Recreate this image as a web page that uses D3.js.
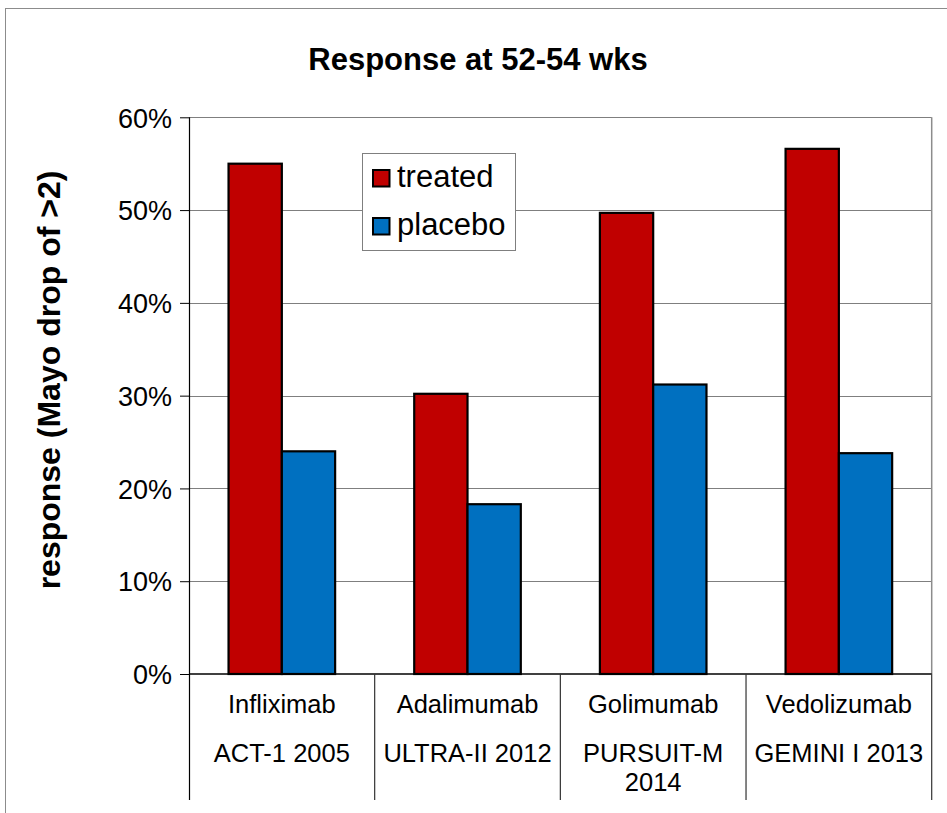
<!DOCTYPE html>
<html>
<head>
<meta charset="utf-8">
<script src="https://cdn.jsdelivr.net/npm/d3@7"></script>
<style>
  html, body { margin: 0; padding: 0; background: #fff; }
  svg { display: block; font-family: "Liberation Sans", Arial, sans-serif; }
</style>
</head>
<body>
<svg id="chart" width="947" height="813"></svg>
<script>
// Trial results: response at 52-54 weeks
const categories = [
  ["Infliximab", "ACT-1 2005"],
  ["Adalimumab", "ULTRA-II 2012"],
  ["Golimumab", "PURSUIT-M", "2014"],
  ["Vedolizumab", "GEMINI I 2013"]
];
const seriesNames = ["treated", "placebo"];
const treated = [0.55, 0.302, 0.497, 0.566];
const placebo = [0.24, 0.183, 0.312, 0.238];
const yTicks = [0, 0.1, 0.2, 0.3, 0.4, 0.5, 0.6];
const colors = { treated: "#C00000", placebo: "#0070C0" };

const svg = d3.select("#chart");
const plot = { left: 189, right: 931.7, top: 117.3, bottom: 674 };

// outer chart frame
svg.append("rect")
  .attr("x", 5.5).attr("y", 8.5).attr("width", 1000).attr("height", 1000)
  .attr("fill", "#fff").attr("stroke", "#8c8c8c").attr("stroke-width", 1);

const x0 = d3.scaleBand()
  .domain(categories.map(c => c[0]))
  .range([plot.left, plot.right])
  .paddingInner(0).paddingOuter(0);

const x1 = d3.scaleBand()
  .domain(seriesNames)
  .range([0, x0.bandwidth()])
  .paddingInner(0).paddingOuter(0.742);

const y = d3.scaleLinear().domain([0, 0.6]).range([plot.bottom, plot.top]);

// horizontal gridlines
svg.append("g")
  .selectAll("line")
  .data(yTicks.filter(t => t > 0))
  .join("line")
  .attr("x1", plot.left).attr("x2", plot.right)
  .attr("y1", d => Math.round(y(d)) + 0.5).attr("y2", d => Math.round(y(d)) + 0.5)
  .attr("stroke", "#7f7f7f").attr("stroke-width", 1);

// right edge of plot area
svg.append("line")
  .attr("x1", plot.right).attr("x2", plot.right)
  .attr("y1", plot.top).attr("y2", plot.bottom)
  .attr("stroke", "#8c8c8c").attr("stroke-width", 1.5);

// bars
const rows = categories.map((c, i) => ({ cat: c[0], values: [
  { key: "treated", value: treated[i] },
  { key: "placebo", value: placebo[i] }
]}));

svg.append("g")
  .selectAll("g")
  .data(rows)
  .join("g")
  .attr("transform", d => `translate(${x0(d.cat)},0)`)
  .selectAll("rect")
  .data(d => d.values)
  .join("rect")
  .attr("x", d => x1(d.key))
  .attr("width", x1.bandwidth())
  .attr("y", d => y(d.value))
  .attr("height", d => y(0) - y(d.value))
  .attr("fill", d => colors[d.key])
  .attr("stroke", "#000").attr("stroke-width", 2.2);

// y axis
const yAxis = d3.axisLeft(y)
  .tickValues(yTicks)
  .tickFormat(d3.format(".0%"))
  .tickSize(9).tickPadding(8);

const yg = svg.append("g")
  .attr("transform", `translate(${plot.left},0)`)
  .call(yAxis);
yg.select(".domain").remove();
yg.selectAll(".tick line").attr("stroke", "#000");
yg.selectAll(".tick text")
  .attr("font-family", "'Liberation Sans', Arial, sans-serif")
  .attr("font-size", 27).attr("fill", "#000").attr("dy", "0.36em");

// axis lines and category separators
svg.append("line")
  .attr("x1", plot.left + 0.5).attr("x2", plot.left + 0.5)
  .attr("y1", plot.top).attr("y2", 800)
  .attr("stroke", "#000").attr("stroke-width", 1.2);
svg.append("line")
  .attr("x1", plot.left).attr("x2", plot.right)
  .attr("y1", plot.bottom).attr("y2", plot.bottom)
  .attr("stroke", "#000").attr("stroke-width", 1.5);

const seps = categories.map(c => x0(c[0])).slice(1).concat([plot.right]);
svg.append("g")
  .selectAll("line")
  .data(seps)
  .join("line")
  .attr("x1", d => d).attr("x2", d => d)
  .attr("y1", plot.bottom).attr("y2", 800)
  .attr("stroke", "#333").attr("stroke-width", 1.2);

// category labels (multi-line)
const lineY = [713, 762, 791];
const catG = svg.append("g")
  .selectAll("text")
  .data(categories)
  .join("text")
  .attr("text-anchor", "middle")
  .attr("font-size", 25.5)
  .attr("fill", "#000");
catG.selectAll("tspan")
  .data(d => d.map((t, j) => ({ t, j, cat: d[0] })))
  .join("tspan")
  .attr("x", d => x0(d.cat) + x0.bandwidth() / 2)
  .attr("y", d => lineY[d.j])
  .text(d => d.t);

// title
svg.append("text")
  .attr("x", 478).attr("y", 70)
  .attr("text-anchor", "middle")
  .attr("font-size", 31).attr("font-weight", "bold")
  .text("Response at 52-54 wks");

// y axis title
svg.append("text")
  .attr("transform", "translate(60,380) rotate(-90)")
  .attr("text-anchor", "middle")
  .attr("font-size", 32).attr("font-weight", "bold")
  .text("response (Mayo drop of >2)");

// legend
const legend = svg.append("g");
legend.append("rect")
  .attr("x", 362.5).attr("y", 153.5).attr("width", 153).attr("height", 97)
  .attr("fill", "#fff").attr("stroke", "#7f7f7f").attr("stroke-width", 1);
const li = legend.selectAll("g")
  .data(seriesNames)
  .join("g")
  .attr("transform", (d, i) => `translate(373,${170 + i * 48})`);
li.append("rect")
  .attr("width", 16.5).attr("height", 16.5)
  .attr("fill", d => colors[d]).attr("stroke", "#000").attr("stroke-width", 2);
li.append("text")
  .attr("x", 24).attr("y", 17)
  .attr("font-size", 31)
  .text(d => d);
</script>
</body>
</html>
